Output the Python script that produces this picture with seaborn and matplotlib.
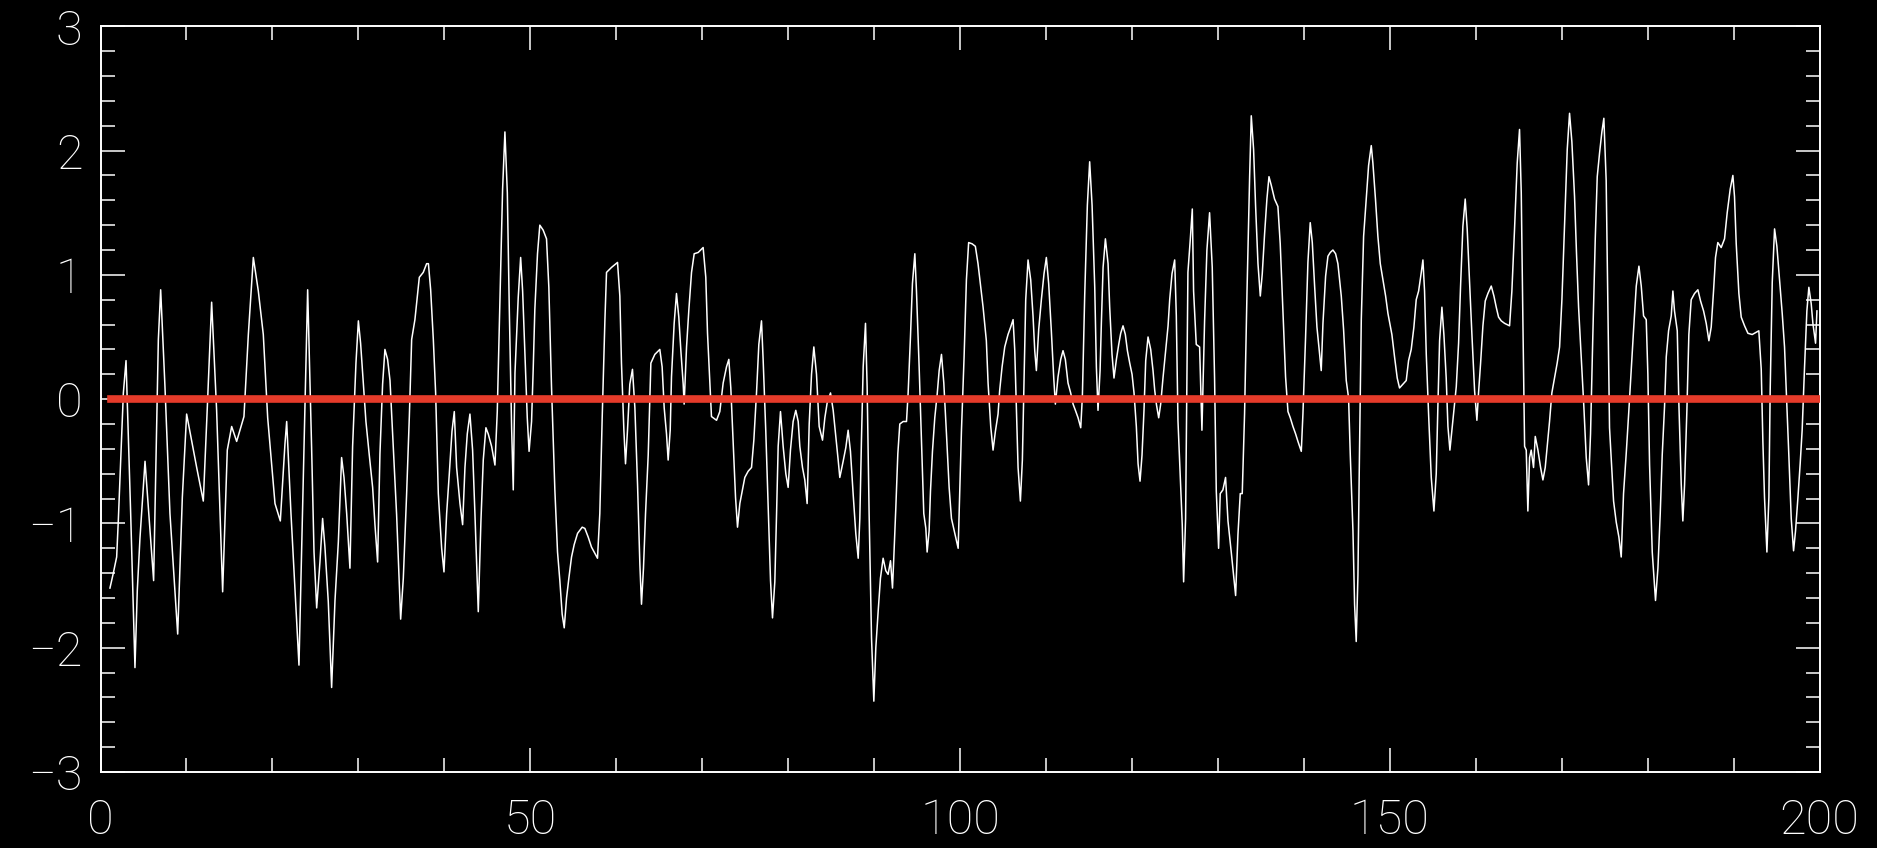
import matplotlib
matplotlib.use("Agg")
import matplotlib.pyplot as plt
import seaborn as sns
import pandas as pd
from matplotlib.ticker import MultipleLocator, FixedLocator

# values (x position, signal value)
t = [1.10, 1.49, 1.88, 2.07, 2.38, 2.66, 2.97, 3.51, 4.01, 4.28, 4.59, 5.18, 5.68, 6.18, 6.73, 7.00,
     7.50, 8.08, 8.98, 9.52, 10.02, 11.19, 11.96, 12.43, 12.93, 13.51, 14.21, 14.75, 15.26, 15.84,
     16.69, 17.20, 17.78, 18.36, 18.94, 19.45, 20.30, 20.92, 21.46, 21.66, 22.16, 23.09, 23.59, 24.10,
     24.56, 24.84, 25.15, 25.53, 25.84, 26.11, 26.50, 26.89, 27.28, 27.67, 28.05, 28.33, 28.64, 29.02,
     29.33, 29.72, 30.00, 30.26, 30.57, 30.88, 31.27, 31.66, 31.93, 32.24, 32.51, 32.82, 33.09, 33.40,
     33.68, 34.06, 34.45, 34.92, 35.23, 35.61, 35.93, 36.20, 36.58, 37.09, 37.55, 37.94, 38.15, 38.41,
     38.72, 38.99, 39.30, 39.69, 39.96, 40.27, 40.58, 40.89, 41.16, 41.43, 41.82, 42.13, 42.40, 42.67,
     42.98, 43.29, 43.56, 43.95, 44.26, 44.53, 44.84, 45.11, 45.50, 45.89, 46.16, 46.47, 46.78, 47.05,
     47.33, 47.56, 47.83, 48.02, 48.22, 48.60, 48.88, 49.11, 49.38, 49.65, 49.86,
     50.15, 50.34, 50.53, 50.84, 51.11, 51.50, 51.89, 52.16, 52.47, 52.86, 53.17, 53.44, 53.71, 53.95,
     54.22, 54.49, 54.80, 55.11, 55.50, 56.04, 56.35, 56.74, 57.12, 57.82, 58.09, 58.37, 58.68, 58.87,
     59.45, 60.15, 60.42, 60.61, 60.89, 61.08, 61.31, 61.58, 61.89, 62.17, 62.48, 62.75, 62.94, 63.17,
     63.41, 63.72, 64.03, 64.49, 65.07, 65.34, 65.58, 65.85, 66.04, 66.28, 66.43, 66.74, 67.01, 67.28,
     67.52, 67.79, 67.90, 68.18, 68.45, 68.76, 69.07, 69.53, 70.11, 70.42, 70.62, 70.93, 71.08, 71.67,
     72.05, 72.44, 72.83, 73.10, 73.33, 73.60, 73.88, 74.11, 74.38,
     74.69, 74.96, 75.35, 75.74, 76.01, 76.32, 76.59, 76.90, 77.09, 77.40, 77.68, 77.95, 78.18, 78.45,
     78.65, 78.84, 79.11, 79.42, 79.73, 80.00, 80.27, 80.58, 80.89, 81.17, 81.36, 81.67, 81.94, 82.21,
     82.45, 82.72, 82.99, 83.30, 83.61, 84.00, 84.27, 84.54, 84.93, 85.24, 85.55, 85.82, 86.01, 86.40,
     86.71, 86.98, 87.25, 87.56, 87.87, 88.15, 88.34, 88.53, 88.73, 89.00, 89.19, 89.42, 89.70, 89.97,
     90.20, 90.47, 90.74, 91.05, 91.36, 91.63, 91.91, 92.14, 92.29, 92.53, 92.76, 92.99, 93.38, 93.77,
     93.96, 94.23, 94.46, 94.74, 94.93, 95.24, 95.51, 95.78, 96.02, 96.17, 96.40, 96.56, 96.79, 97.06,
     97.34, 97.57, 97.84, 98.11, 98.42, 98.73, 99.00, 99.39, 99.78,
     100.16, 100.47, 100.74, 101.00, 101.40, 101.78, 102.09, 102.40, 102.68, 103.06, 103.26, 103.57,
     103.84, 104.11, 104.42, 104.61, 104.89, 105.20, 105.58, 105.89, 106.17, 106.36, 106.55, 106.75,
     107.02, 107.25, 107.45, 107.64, 107.91, 108.22, 108.49, 108.69, 108.88, 109.15, 109.46, 109.77,
     110.04, 110.31, 110.62, 110.90, 111.09, 111.40, 111.71, 111.98, 112.25, 112.56, 112.87, 113.15,
     113.42, 113.73, 114.04, 114.23, 114.50, 114.81, 115.08, 115.36, 115.67, 115.86, 116.05, 116.29,
     116.44, 116.64, 116.91, 117.22, 117.41, 117.68, 117.91, 118.19, 118.46, 118.69, 118.96, 119.23,
     119.47, 119.74, 120.01, 120.24, 120.51, 120.71, 120.94, 121.17, 121.40, 121.60, 121.87, 122.18,
     122.45, 122.65, 122.84, 123.11, 123.34, 123.61, 123.89, 124.20, 124.39, 124.66, 124.97,
     125.16, 125.35, 125.85, 126.01, 126.24, 126.51, 126.78, 127.02, 127.17, 127.48, 127.87, 128.14,
     128.45, 128.72, 129.03, 129.34, 129.61, 129.81, 130.08, 130.27, 130.58, 130.89, 131.17, 131.55,
     131.82, 132.06, 132.33, 132.60, 132.83, 133.10, 133.38, 133.69, 133.88, 134.15, 134.38, 134.66,
     134.93, 135.16, 135.43, 135.70, 135.94, 136.21, 136.59, 136.98, 137.25, 137.56, 137.87, 138.15,
     138.42, 138.73, 139.04, 139.31, 139.70, 139.89, 140.20, 140.47, 140.74, 140.98, 141.25, 141.52,
     142.02, 142.22, 142.53, 142.80, 143.07, 143.38, 143.69, 143.96, 144.35, 144.62, 144.93, 145.20,
     145.40, 145.71, 145.90, 146.09, 146.29, 146.48, 146.68, 146.95, 147.26, 147.53, 147.84, 148.03,
     148.34, 148.61, 148.89, 149.20, 149.51, 149.78,
     150.24, 150.55, 150.86, 151.13, 151.52, 151.91, 152.18, 152.49, 152.80, 153.07, 153.35, 153.66,
     153.85, 154.04, 154.24, 154.51, 154.82, 155.13, 155.40, 155.59, 155.79, 156.06, 156.29, 156.56,
     156.76, 156.99, 157.22, 157.46, 157.73, 158.00, 158.23, 158.50, 158.77, 159.00, 159.28, 159.55,
     159.86, 160.13, 160.32, 160.56, 160.83, 161.10, 161.41, 161.80, 162.11, 162.38, 162.65, 162.96,
     163.35, 163.93, 164.20, 164.51, 164.82, 165.09, 165.29, 165.48, 165.68, 165.87, 166.06, 166.26,
     166.45, 166.72, 166.92, 167.23, 167.54, 167.81, 168.08, 168.31, 168.58, 168.85, 169.16, 169.47,
     169.75, 170.02, 170.33, 170.64, 170.91, 171.18, 171.49, 171.72, 171.96, 172.27, 172.58, 172.85,
     173.12, 173.35, 173.62, 173.90, 174.13, 174.40, 174.67, 174.90, 175.17, 175.37, 175.56,
     176.03, 176.34, 176.65, 176.92, 177.19, 177.50, 177.81, 178.08, 178.36, 178.67, 178.98, 179.25,
     179.52, 179.83, 180.02, 180.22, 180.53, 180.91, 181.19, 181.46, 181.69, 181.96, 182.16, 182.43,
     182.74, 182.93, 183.12, 183.44, 183.63, 183.90, 184.09, 184.29, 184.56, 184.79, 185.06, 185.45,
     185.84, 186.15, 186.50, 186.81, 187.12, 187.39, 187.66, 187.89, 188.16, 188.55, 188.94, 189.25,
     189.60, 189.91, 190.10, 190.30, 190.61, 190.88, 191.27, 191.66, 192.16, 192.93, 193.21, 193.40,
     193.59, 193.87, 194.10, 194.25, 194.49, 194.76, 195.03, 195.34, 195.65, 195.92, 196.19, 196.42,
     196.70, 196.97, 197.20, 197.47, 197.74, 197.97, 198.25, 198.52, 198.75, 199.02, 199.22, 199.53,
     199.69]

signal = [-1.52, -1.40, -1.27, -0.98, -0.45, 0.05, 0.31, -0.92, -2.16, -1.54, -1.12, -0.50, -0.98, -1.46, 0.48, 0.88,
          0.10, -0.92, -1.89, -0.79, -0.12, -0.55, -0.82, -0.06, 0.78, -0.09, -1.55, -0.41, -0.22, -0.34,
          -0.14, 0.52, 1.14, 0.87, 0.52, -0.15, -0.84, -0.98, -0.36, -0.18, -0.92, -2.14, -0.63, 0.88,
          -0.39, -1.23, -1.68, -1.31, -0.96, -1.19, -1.63, -2.32, -1.62, -1.15, -0.47, -0.63, -0.92, -1.36,
          -0.38, 0.29, 0.63, 0.45, 0.13, -0.18, -0.45, -0.71, -1.01, -1.31, -0.44, 0.12, 0.40, 0.32,
          0.15, -0.38, -0.93, -1.77, -1.44, -0.77, -0.14, 0.48, 0.64, 0.98, 1.02, 1.09, 1.09, 0.88,
          0.48, 0.05, -0.76, -1.20, -1.39, -0.92, -0.60, -0.26, -0.10, -0.55, -0.84, -1.01, -0.55, -0.28,
          -0.12, -0.41, -0.92, -1.71, -0.98, -0.49, -0.23, -0.28, -0.38, -0.53, -0.10, 0.80, 1.69, 2.15,
          1.66, 0.72, -0.23, -0.73, 0.21, 0.82, 1.14, 0.87, 0.36, -0.15, -0.42,
          -0.18, 0.24, 0.72, 1.17, 1.40, 1.36, 1.29, 0.90, 0.10, -0.73, -1.23, -1.46, -1.73, -1.84,
          -1.60, -1.44, -1.27, -1.17, -1.08, -1.03, -1.04, -1.11, -1.19, -1.28, -0.92, -0.14, 0.63, 1.02,
          1.06, 1.10, 0.83, 0.29, -0.25, -0.52, -0.25, 0.12, 0.24, -0.07, -0.69, -1.33, -1.65, -1.36,
          -0.92, -0.45, 0.29, 0.36, 0.40, 0.26, -0.07, -0.28, -0.49, -0.25, 0.18, 0.61, 0.85, 0.66,
          0.39, 0.12, -0.04, 0.42, 0.72, 1.02, 1.17, 1.18, 1.22, 0.98, 0.53, 0.07, -0.14, -0.17,
          -0.10, 0.13, 0.26, 0.32, 0.09, -0.34, -0.79, -1.03, -0.84,
          -0.73, -0.63, -0.58, -0.55, -0.33, 0.05, 0.44, 0.63, 0.32, -0.26, -0.87, -1.46, -1.76, -1.47,
          -0.93, -0.38, -0.10, -0.38, -0.60, -0.71, -0.41, -0.18, -0.09, -0.18, -0.38, -0.55, -0.65, -0.84,
          -0.20, 0.20, 0.42, 0.20, -0.22, -0.33, -0.15, -0.03, 0.05, -0.09, -0.30, -0.49, -0.63, -0.50,
          -0.39, -0.25, -0.42, -0.76, -1.08, -1.28, -0.96, -0.33, 0.26, 0.61, 0.10, -0.92, -1.92, -2.43,
          -2.00, -1.71, -1.44, -1.28, -1.38, -1.41, -1.30, -1.52, -1.28, -0.87, -0.44, -0.20, -0.18, -0.18,
          0.05, 0.50, 0.93, 1.17, 0.87, 0.26, -0.33, -0.92, -1.04, -1.23, -1.06, -0.74, -0.42, -0.15,
          0.04, 0.23, 0.36, 0.13, -0.28, -0.71, -0.96, -1.08, -1.20,
          -0.26, 0.34, 0.96, 1.26, 1.25, 1.23, 1.09, 0.91, 0.74, 0.47, 0.13, -0.22,
          -0.41, -0.26, -0.12, 0.07, 0.26, 0.42, 0.52, 0.58, 0.64, 0.40, -0.06, -0.55,
          -0.82, -0.49, 0.17, 0.80, 1.12, 0.96, 0.67, 0.39, 0.23, 0.56, 0.80, 1.01,
          1.14, 0.93, 0.55, 0.17, -0.04, 0.18, 0.32, 0.39, 0.32, 0.13, 0.05, -0.04,
          -0.09, -0.15, -0.23, 0.02, 0.83, 1.56, 1.91, 1.56, 0.90, 0.26, -0.09, 0.23,
          0.61, 1.06, 1.29, 1.09, 0.74, 0.36, 0.17, 0.32, 0.44, 0.53, 0.59, 0.52,
          0.39, 0.29, 0.20, 0.05, -0.22, -0.52, -0.66, -0.45, -0.09, 0.31, 0.50, 0.40,
          0.23, 0.07, -0.04, -0.15, -0.04, 0.17, 0.37, 0.59, 0.80, 1.01, 1.12,
          0.67, -0.17, -1.01, -1.47, -0.96, 1.02, 1.28, 1.53, 0.87, 0.44, 0.42, -0.25,
          0.63, 1.20, 1.50, 1.06, 0.17, -0.74, -1.20, -0.76, -0.73, -0.63, -0.98, -1.23,
          -1.42, -1.58, -1.09, -0.76, -0.76, -0.12, 0.85, 1.79, 2.28, 2.01, 1.56, 1.09,
          0.83, 1.01, 1.33, 1.61, 1.79, 1.72, 1.61, 1.55, 1.25, 0.72, 0.18, -0.10,
          -0.15, -0.22, -0.28, -0.34, -0.42, -0.12, 0.50, 1.10, 1.42, 1.26, 0.91, 0.58,
          0.23, 0.61, 0.99, 1.15, 1.18, 1.20, 1.17, 1.09, 0.83, 0.56, 0.15, 0.01,
          -0.45, -1.06, -1.65, -1.95, -1.42, -0.38, 0.64, 1.31, 1.61, 1.88, 2.04, 1.90,
          1.60, 1.31, 1.09, 0.96, 0.83, 0.69,
          0.52, 0.34, 0.17, 0.09, 0.12, 0.15, 0.31, 0.40, 0.58, 0.80, 0.87, 1.02,
          1.12, 0.87, 0.36, -0.12, -0.63, -0.90, -0.60, -0.06, 0.47, 0.74, 0.52, 0.17,
          -0.22, -0.41, -0.25, -0.09, 0.10, 0.45, 0.91, 1.39, 1.61, 1.37, 0.93, 0.52,
          0.07, -0.17, 0.05, 0.29, 0.59, 0.79, 0.85, 0.91, 0.83, 0.74, 0.66, 0.63,
          0.61, 0.59, 0.87, 1.37, 1.90, 2.17, 1.66, 0.63, -0.38, -0.41, -0.90, -0.47,
          -0.41, -0.55, -0.30, -0.41, -0.55, -0.65, -0.55, -0.38, -0.18, 0.05, 0.17, 0.29,
          0.42, 0.80, 1.41, 2.01, 2.30, 2.07, 1.63, 1.17, 0.74, 0.34, -0.07, -0.47,
          -0.69, -0.28, 0.52, 1.29, 1.79, 1.98, 2.15, 2.26, 1.76, 0.77, -0.23,
          -0.82, -0.99, -1.11, -1.27, -0.76, -0.44, -0.09, 0.23, 0.56, 0.91, 1.07, 0.91,
          0.67, 0.64, 0.20, -0.53, -1.23, -1.62, -1.36, -0.92, -0.45, -0.06, 0.34, 0.55,
          0.67, 0.87, 0.71, 0.55, -0.04, -0.68, -0.98, -0.69, -0.09, 0.52, 0.80, 0.85,
          0.88, 0.79, 0.71, 0.61, 0.47, 0.58, 0.87, 1.14, 1.26, 1.22, 1.29, 1.50,
          1.69, 1.80, 1.63, 1.25, 0.85, 0.66, 0.59, 0.53, 0.52, 0.55, 0.24, -0.34,
          -0.79, -1.23, -0.79, 0.07, 0.94, 1.37, 1.23, 0.96, 0.69, 0.42, -0.04, -0.45,
          -0.96, -1.22, -1.06, -0.80, -0.52, -0.25, 0.26, 0.71, 0.90, 0.77, 0.61, 0.45,
          0.71]

# zero reference line
ref_t = [1.2, 199.7]
ref_level = [0.0, 0.0]

xticks = [0, 50, 100, 150, 200]
yticks = [-3, -2, -1, 0, 1, 2, 3]
ytick_labels = ["\u22123", "\u22122", "\u22121", "0", "1", "2", "3"]

df = pd.DataFrame({"t": t, "signal": signal})
ref = pd.DataFrame({"t": ref_t, "level": ref_level})

W, H = 1877, 848
fig = plt.figure(figsize=(W / 100, H / 100), dpi=100, facecolor="black")
ax = fig.add_axes([100.5 / W, 76 / H, (1819.6 - 100.5) / W, (772 - 26.3) / H])
ax.set_facecolor("black")

sns.lineplot(data=df, x="t", y="signal", ax=ax, color="white", lw=1.1,
             sort=False, estimator=None, zorder=2)
sns.lineplot(data=ref, x="t", y="level", ax=ax, color="#e63b2a", lw=5.5,
             sort=False, estimator=None, zorder=3, solid_capstyle="projecting")

ax.set_xlim(0, 200)
ax.set_ylim(-3, 3)
ax.xaxis.set_major_locator(FixedLocator(xticks))
ax.xaxis.set_minor_locator(MultipleLocator(10))
ax.set_yticks(yticks)
ax.set_yticklabels(ytick_labels)
ax.yaxis.set_minor_locator(MultipleLocator(0.2))
ax.set_xlabel("")
ax.set_ylabel("")

ax.tick_params(which="both", direction="in", top=True, right=True,
               color="white", labelcolor="white", labelsize=35)
ax.tick_params(which="major", length=17.5, width=1.1)
ax.tick_params(which="minor", length=10, width=1.1)
ax.tick_params(axis="x", pad=18)
ax.tick_params(axis="y", pad=13)
# thin label strokes like the reference
for lab in ax.get_xticklabels() + ax.get_yticklabels():
    lab.set_family(["Roboto", "DejaVu Sans"])
    lab.set_fontweight("light")
for s in ax.spines.values():
    s.set_color("white")
    s.set_linewidth(1.4)

fig.savefig("out.png", dpi=100, facecolor="black")
